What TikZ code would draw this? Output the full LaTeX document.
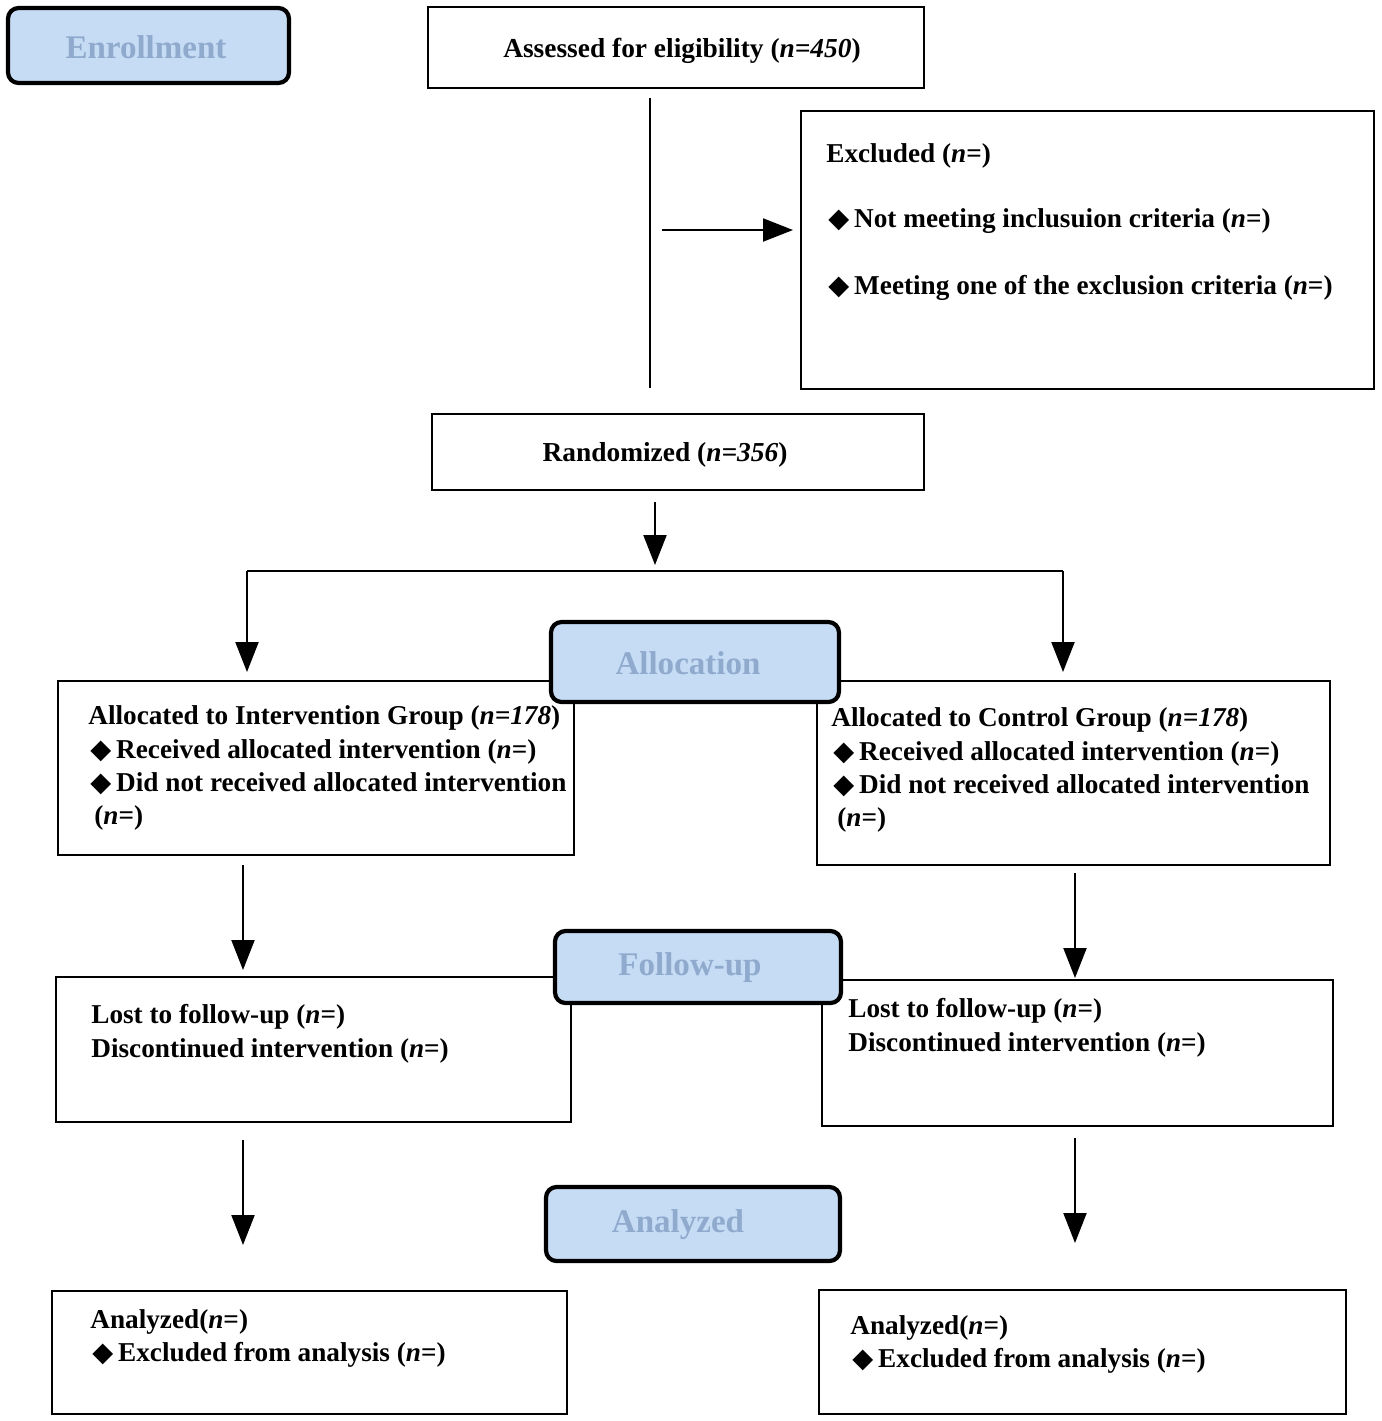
\documentclass[tikz,border=0pt]{standalone}
\usepackage{fontspec}
\setmainfont{Liberation Serif}
\newfontfamily\dejavu{DejaVu Sans}
\usetikzlibrary{arrows.meta,fit}
\definecolor{lblfill}{HTML}{C6DCF5}
\definecolor{lbltext}{HTML}{8FAACD}
\newcommand{\dmd}{{\dejavu\fontsize{15.5pt}{15pt}\selectfont ◆}\hspace{2.8pt}}
\newcommand{\nn}{\textit{n}}
\begin{document}
\begin{tikzpicture}[x=0.02cm,y=-0.02cm,
 box/.style={draw, line width=1.2pt, inner sep=0, fill=white},
 lbl/.style={draw, line width=2.4pt, rounded corners=6pt, fill=lblfill, inner sep=0},
 lbltxt/.style={text=lbltext, inner sep=0, font=\fontsize{18.8pt}{20pt}\selectfont\bfseries},
 txt/.style={font=\fontsize{15.5pt}{18pt}\selectfont\bfseries, inner sep=0, anchor=base west},
 ctxt/.style={font=\fontsize{15.6pt}{18pt}\selectfont\bfseries, inner sep=0},
 arr/.style={line width=1.2pt, -{Triangle[length=0.6cm,width=0.46cm]}},
 ln/.style={line width=1.2pt}]
\useasboundingbox (0,0) rectangle (1382,1421);

% boxes
\node[box, fit={(428,7)(924,88)}] (assess) {};
\node[box, fit={(801,111)(1374,389)}] (excl) {};
\node[box, fit={(432,414)(924,490)}] (rand) {};
\node[box, fit={(58,681)(574,855)}] (allocL) {};
\node[box, fit={(817,681)(1330,865)}] (allocR) {};
\node[box, fit={(56,977)(571,1122)}] (lostL) {};
\node[box, fit={(822,980)(1333,1126)}] (lostR) {};
\node[box, fit={(52,1291)(567,1414)}] (anaL) {};
\node[box, fit={(819,1290)(1346,1414)}] (anaR) {};

% connector coordinates
\coordinate (v1) at (650,98);
\coordinate (v2) at (650,388);
\coordinate (h1) at (662,230);
\coordinate (h2) at (793,230);
\coordinate (r1) at (655,502);
\coordinate (r2) at (655,565);
\coordinate (sL) at (247,571);
\coordinate (sR) at (1063,571);
\coordinate (eL) at (247,672);
\coordinate (eR) at (1063,672);
\coordinate (a1L) at (243,865);
\coordinate (a2L) at (243,970);
\coordinate (a1R) at (1075,873);
\coordinate (a2R) at (1075,978);
\coordinate (b1L) at (243,1140);
\coordinate (b2L) at (243,1245);
\coordinate (b1R) at (1075,1138);
\coordinate (b2R) at (1075,1243);

\draw[ln] (v1) -- (v2);
\draw[arr] (h1) -- (h2);
\draw[arr] (r1) -- (r2);
\draw[ln] (sL) -- (sR);
\draw[arr] (sL) -- (eL);
\draw[arr] (sR) -- (eR);
\draw[arr] (a1L) -- (a2L);
\draw[arr] (a1R) -- (a2R);
\draw[arr] (b1L) -- (b2L);
\draw[arr] (b1R) -- (b2R);

% texts
\node[ctxt] (tAssess) at (682,51) {Assessed for eligibility (\textit{n=450})};
\node[txt] (tEx1) at (826,162) {Excluded (\nn=)};
\node[txt] (tEx2) at (828,227) {\dmd Not meeting inclusuion criteria (\nn=)};
\node[txt] (tEx3) at (828,294) {\dmd Meeting one of the exclusion criteria (\nn=)};
\node[ctxt] (tRand) at (665,455) {Randomized (\textit{n=356})};

\node[txt] (tAL1) at (88,724) {Allocated to Intervention Group (\textit{n=178})};
\node[txt] (tAL2) at (90,758) {\dmd Received allocated intervention (\nn=)};
\node[txt] (tAL3) at (90,791) {\dmd Did not received allocated intervention};
\node[txt] (tAL4) at (94,824) {(\nn=)};

\node[txt] (tAR1) at (831,726) {Allocated to Control Group (\textit{n=178})};
\node[txt] (tAR2) at (833,760) {\dmd Received allocated intervention (\nn=)};
\node[txt] (tAR3) at (833,793) {\dmd Did not received allocated intervention};
\node[txt] (tAR4) at (837,826) {(\nn=)};

\node[txt] (tLL1) at (91,1023) {Lost to follow-up (\nn=)};
\node[txt] (tLL2) at (91,1057) {Discontinued intervention (\nn=)};
\node[txt] (tLR1) at (848,1017) {Lost to follow-up (\nn=)};
\node[txt] (tLR2) at (848,1051) {Discontinued intervention (\nn=)};

\node[txt] (tNL1) at (90,1328) {Analyzed(\nn=)};
\node[txt] (tNL2) at (92,1361) {\dmd Excluded from analysis (\nn=)};
\node[txt] (tNR1) at (850,1334) {Analyzed(\nn=)};
\node[txt] (tNR2) at (852,1367) {\dmd Excluded from analysis (\nn=)};

% stage labels
\node[lbl, fit={(8,8)(289,83)}] (enroll) {};
\node[lbltxt] at (146,47) {Enrollment};
\node[lbl, fit={(551,622)(839,702)}] (alloc) {};
\node[lbltxt] at (688,663) {Allocation};
\node[lbl, fit={(555,931)(841,1003)}] (follow) {};
\node[lbltxt] at (690,968) {Follow-up};
\node[lbl, fit={(546,1187)(840,1261)}] (analyz) {};
\node[lbltxt] at (678,1225) {Analyzed};
\end{tikzpicture}
\end{document}
